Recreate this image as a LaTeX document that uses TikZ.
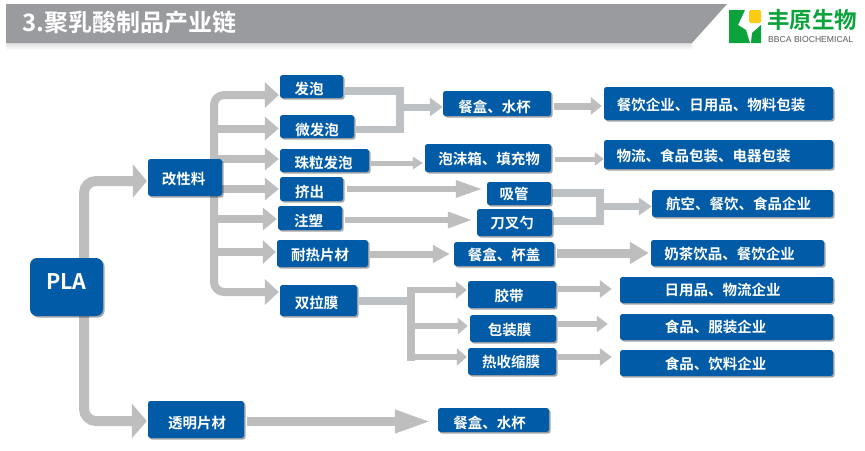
\documentclass[tikz,border=0pt]{standalone}
\usepackage{fontspec}
\setmainfont{Noto Sans CJK SC}[BoldFont={* Bold}]
\newfontfamily\latinf{Liberation Sans}
\usetikzlibrary{arrows.meta,shadows,calc}
\definecolor{boxblue}{RGB}{1,91,166}
\definecolor{flowgray}{RGB}{190,190,190}
\definecolor{brgray}{RGB}{190,193,195}
\definecolor{headgray}{RGB}{154,155,159}
\definecolor{logogreen}{RGB}{12,163,60}
\definecolor{logoyellow}{RGB}{250,205,20}
\pgfdeclarelayer{bgl}
\pgfdeclarelayer{edges}
\pgfsetlayers{bgl,edges,main}
\tikzset{
  boxn/.style={draw=none,fill=boxblue,rounded corners=2.5pt,inner sep=0pt,text=white,font=\bfseries\fontsize{14.5}{15}\selectfont,
    drop shadow={shadow xshift=1.6pt,shadow yshift=-1.6pt,fill=black,opacity=.35}},
  arr/.style n args={3}{draw=flowgray,line width=#1,line cap=butt,-{Triangle[length=#2,width=#3]}},
  brk/.style={draw=brgray,line width=#1,line cap=butt,line join=miter},
}
% name x1 y1 x2 y2 dx dy text
\newcommand{\bx}[8]{%
  \pgfmathsetmacro{\bw}{#4-#2}\pgfmathsetmacro{\bh}{#5-#3}%
  \pgfmathsetmacro{\tdx}{2*(#6)}\pgfmathsetmacro{\tdy}{-5.2-(#7)}%
  \node[boxn,minimum width=\bw pt,minimum height=\bh pt] (#1) at ({(#2+#4)/2},{(#3+#5)/2})
    {\raisebox{\tdy pt}[0pt][0pt]{\hspace*{\tdx pt}#8}};}
\begin{document}
\begin{tikzpicture}[x=1pt,y=-1pt]
\useasboundingbox (0,0) rectangle (865,450);
\begin{pgfonlayer}{bgl}
\fill[white] (0,0) rectangle (865,450);
\end{pgfonlayer}
% header
\shade[top color=black!12,bottom color=white] (6,43) rectangle (692,50);
\fill[headgray] (6,4) -- (727,4) -- (692,43) -- (6,43) -- cycle;
\node[anchor=west,inner sep=0pt,text=white,font=\bfseries\fontsize{24}{24}\selectfont] (title) at (22.5,22) {3.聚乳酸制品产业链};
% logo
\fill[logogreen] (729,10) -- (745,10) -- (738,25) -- (746,30) -- (750,43) -- (729,43) -- cycle;
\fill[logogreen] (751,43) -- (752,33) -- (761,25) -- (761,43) -- cycle;
\fill[logoyellow,rounded corners=1.5pt] (749,10) rectangle (761,23);
\node[anchor=west,inner sep=0pt,text=logogreen,font=\bfseries\fontsize{22.5}{22.5}\selectfont] (logotext) at (767,20) {丰原生物};
\node[anchor=west,inner sep=0pt,text=black!65,font=\latinf\fontsize{8.6}{9}\selectfont] (logosub) at (768,40) {BBCA BIOCHEMICAL};
% boxes
{\tikzset{boxn/.append style={rounded corners=7pt}}
\bx{pla}{30}{258}{103}{316}{0}{-2.5}{\fontsize{21.5}{22}\selectfont PLA}}
\bx{gxl}{148}{159}{222}{196}{-1.5}{1.5}{改性料}
\bx{fp}{280}{75}{343}{98}{-2.5}{3}{发泡}
\bx{wfp}{280}{115}{354}{138}{0}{3.5}{微发泡}
\bx{zl}{280}{149}{369}{172}{-1}{2.5}{珠粒发泡}
\bx{jc}{280}{177}{343}{201}{-2}{3.5}{挤出}
\bx{zs}{278}{206}{342}{230}{-1.5}{3.5}{注塑}
\bx{nr}{277}{240}{368}{267}{-2.5}{2}{耐热片材}
\bx{sl}{280}{285}{357}{316}{-2}{2.5}{双拉膜}
\bx{tm}{148}{401}{244}{438}{1}{3.5}{透明片材}
\bx{cs}{443}{91}{551}{116}{-2.5}{3.5}{餐盒、水杯}
\bx{pm}{425}{144}{551}{172}{1}{1}{泡沫箱、填充物}
\bx{xg}{487}{182}{551}{205}{-5}{0.5}{吸管}
\bx{dc}{477}{209}{552}{236}{-2.5}{0.5}{刀叉勺}
\bx{cb}{454}{242}{554}{266}{0}{1}{餐盒、杯盖}
\bx{jd}{468}{281}{556}{308}{-3}{1.5}{胶带}
\bx{bz}{470}{315}{556}{342}{-3.5}{1.5}{包装膜}
\bx{rs}{468}{348}{556}{375}{-1}{1}{热收缩膜}
\bx{cs2}{438}{408}{549}{432}{-4}{3}{餐盒、水杯}
\bx{cy}{604}{87}{833}{120}{-7.5}{1.5}{餐饮企业、日用品、物料包装}
\bx{wl}{604}{140}{833}{169}{-15}{1.5}{物流、食品包装、电器包装}
\bx{hk}{652}{190}{833}{217}{-4}{0.5}{航空、餐饮、食品企业}
\bx{nc}{651}{240}{824}{266}{-8}{1}{奶茶饮品、餐饮企业}
\bx{ry}{620}{277}{833}{303}{-4}{0.7}{日用品、物流企业}
\bx{fz}{620}{314}{833}{340}{-11}{0.7}{食品、服装企业}
\bx{yl}{620}{350}{833}{376}{-11}{1}{食品、饮料企业}
% connectors
\begin{pgfonlayer}{edges}
\coordinate (t1) at (84,270);
\coordinate (t2) at (214,170);
\coordinate (j1) at (400,107);
\coordinate (j2) at (600,206.5);
\coordinate (j3) at (411,300.5);
% PLA
\draw[arr={10pt}{14pt}{33pt},rounded corners=12pt] (pla.north -| t1) |- ([xshift=-1pt]gxl.west |- 0,181);
\draw[arr={10pt}{15pt}{34pt},rounded corners=12pt] (pla.south -| t1) |- ([xshift=-1pt]tm.west |- 0,421);
% gaixingliao fan
\draw[arr={8pt}{14pt}{25pt},rounded corners=10pt] (gxl.north -| t2) |- ([xshift=-1pt]fp.west |- 0,95);
\draw[arr={8pt}{14pt}{25pt},rounded corners=10pt] (gxl.south -| t2) |- ([xshift=-1pt]sl.west |- 0,292);
\draw[arr={8pt}{14pt}{23pt}] (t2 |- 0,128.5) -- ([xshift=-1pt]wfp.west |- 0,128.5);
\draw[arr={8pt}{14pt}{22pt}] (t2 |- 0,159) -- ([xshift=-1pt]zl.west |- 0,159);
\draw[arr={8pt}{14pt}{22pt}] (gxl.east |- 0,189) -- ([xshift=-1pt]jc.west |- 0,189);
\draw[arr={8pt}{14pt}{22pt}] (t2 |- 0,219) -- ([xshift=-1pt]zs.west |- 0,219);
\draw[arr={8pt}{13pt}{23pt}] (t2 |- 0,252) -- ([xshift=-1pt]nr.west |- 0,252);
% first bracket
\draw[brk=7.5pt] ([xshift=2pt]fp.east |- 0,91) -| (j1) |- ([xshift=2pt]wfp.east |- 0,129.5);
\draw[arr={7pt}{13pt}{18pt},draw=brgray] (j1) -- (cs.west |- j1);
\draw[arr={7pt}{11pt}{17pt}] ([xshift=3pt]cs.east |- 0,106) -- ([xshift=-2pt]cy.west |- 0,106);
% second row
\draw[arr={5pt}{10pt}{12pt}] ([xshift=2pt]zl.east |- 0,163) -- ([xshift=-2pt]pm.west |- 0,163);
\draw[arr={5pt}{9pt}{13pt}] ([xshift=4pt]pm.east |- 0,159) -- (wl.west |- 0,159);
\draw[arr={6pt}{27pt}{16pt}] ([xshift=4pt]jc.east |- 0,189) -- ([xshift=-4pt]xg.west |- 0,189);
\draw[arr={6pt}{25pt}{15pt}] ([xshift=3pt]zs.east |- 0,220) -- ([xshift=-4pt]dc.west |- 0,220);
\draw[arr={7pt}{17pt}{17pt}] ([xshift=2pt]nr.east |- 0,254) -- ([xshift=-4pt]cb.west |- 0,254);
% second bracket
\draw[brk=7.5pt] ([xshift=1pt]xg.east |- 0,193) -| (j2) |- ([xshift=1pt]dc.east |- 0,221);
\draw[arr={7pt}{13pt}{17pt},draw=brgray] (j2) -- (hk.west |- j2);
\draw[arr={9pt}{19pt}{21pt}] ([xshift=3pt]cb.east |- 0,253) -- ([xshift=-2pt]nc.west |- 0,253);
% shuangla fan
\draw[brk=8pt] ([xshift=2pt]sl.east |- j3) -- (j3);
\draw[brk=8pt,draw=flowgray] (j3 |- 0,287) -- (j3 |- 0,361);
\draw[arr={6pt}{11pt}{17pt}] (j3 |- 0,290) -- ([xshift=-1pt]jd.west |- 0,290);
\draw[arr={6pt}{10pt}{16pt}] (j3 |- 0,326) -- ([xshift=-2pt]bz.west |- 0,326);
\draw[arr={6pt}{10pt}{17pt}] (j3 |- 0,357) -- ([xshift=-1pt]rs.west |- 0,357);
\draw[arr={6pt}{12pt}{17pt}] ([xshift=2pt]jd.east |- 0,289) -- ([xshift=-8pt]ry.west |- 0,289);
\draw[arr={6pt}{11pt}{16pt}] ([xshift=2pt]bz.east |- 0,324) -- ([xshift=-12pt]fz.west |- 0,324);
\draw[arr={6pt}{12pt}{17pt}] ([xshift=2pt]rs.east |- 0,357) -- ([xshift=-8pt]yl.west |- 0,357);
% bottom
\draw[arr={9pt}{37pt}{21pt}] ([xshift=3pt]tm.east |- 0,421.5) -- ([xshift=-6pt]cs2.west |- 0,421.5);
\end{pgfonlayer}
\end{tikzpicture}
\end{document}
